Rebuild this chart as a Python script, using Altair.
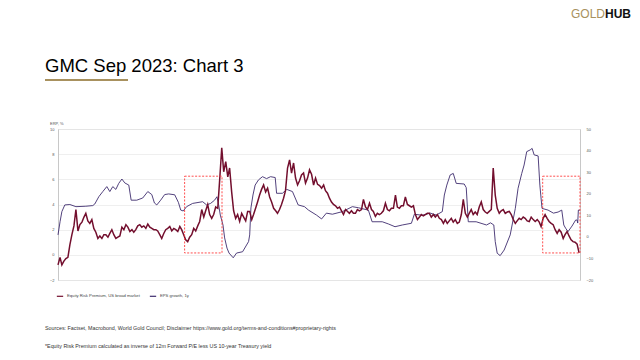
import altair as alt
import pandas as pd

# ---------------- data ----------------
erp_start = "2002-01-01"
erp_values = [
    -0.8, -0.2, -0.8, -0.5, -0.3, -0.2, 0.8, 1.6, 2.3, 3.6, 1.9, 2.4,      # 2002
    2.6, 3.0, 3.3, 2.7, 2.5, 2.8, 2.1, 1.8, 1.3, 1.5, 1.3, 1.6,            # 2003
    1.6, 1.4, 1.7, 2.0, 1.6, 1.3, 1.4, 1.5, 2.2, 2.0, 2.4, 2.2,            # 2004
    1.85, 2.0, 1.8, 2.0, 2.3, 2.4, 2.2, 2.3, 2.1, 2.45, 2.2, 2.1,          # 2005
    2.0, 2.0, 1.9, 1.6, 1.3, 1.7, 2.0, 2.1, 2.25, 1.9, 2.1, 2.0,           # 2006
    1.85, 2.25, 2.0, 1.6, 1.2, 1.05, 1.4, 1.6, 2.1, 1.9, 2.3, 2.65,        # 2007
    3.6, 3.0, 3.5, 4.0, 3.2, 2.9, 3.2, 3.8, 3.7, 6.0, 8.5, 6.6,            # 2008
    7.4, 6.2, 6.9, 5.0, 3.5, 2.9, 3.2, 2.65, 3.3, 3.0, 2.7, 3.45,          # 2009
    3.45, 2.8, 3.2, 3.7, 4.2, 4.75, 5.2, 5.55, 5.0, 5.3, 4.6, 4.2,         # 2010
    3.7, 3.5, 3.3, 3.6, 4.0, 4.5, 5.1, 6.9, 7.55, 6.5, 7.3, 6.1,           # 2011
    5.55, 5.9, 6.35, 6.5, 5.7, 6.1, 6.75, 6.4, 5.55, 6.1, 5.6, 5.5,        # 2012
    5.3, 5.55, 5.1, 4.9, 4.5, 4.2, 4.0, 3.9, 3.7, 3.8, 3.5, 3.2,           # 2013
    3.6, 3.45, 3.3, 3.5, 3.3, 3.3, 3.6, 3.5, 3.6, 4.4, 3.8, 3.6,           # 2014
    4.1, 3.6, 3.45, 3.05, 3.3, 3.2, 3.3, 3.5, 4.1, 3.6, 3.5, 3.7,          # 2015
    3.7, 4.75, 3.8, 3.7, 3.9, 3.9, 4.6, 4.0, 3.9, 3.8, 3.9, 3.2,           # 2016
    2.8, 3.0, 3.2, 3.1, 3.2, 3.3, 3.3, 3.0, 3.2, 3.0, 3.2, 2.9,            # 2017
    2.8, 2.5, 2.8, 2.5, 2.7, 2.9, 2.6, 2.8, 2.5, 2.6, 3.2, 4.4,            # 2018
    3.3, 3.0, 3.3, 3.6, 3.2, 3.4, 3.2, 3.8, 4.2, 3.6, 3.4, 3.3,            # 2019
    3.45, 3.6, 6.9, 4.75, 3.7, 3.3, 3.5, 3.6, 3.3, 3.4, 3.45, 3.2,         # 2020
    2.8, 2.5, 2.7, 2.9, 2.8, 3.0, 2.9, 2.7, 2.65, 3.0, 2.8, 2.65,          # 2021
    2.8, 2.6, 2.25, 2.9, 3.2, 2.9, 2.65, 2.5, 2.4, 2.0, 1.7, 2.0,          # 2022
    1.8, 1.3, 1.6, 1.85, 1.5, 1.2, 1.05, 1.0, 0.85, 0.15,                  # 2023
]

eps_dates = [
    "2002-01-01", "2002-02-01", "2002-03-01", "2002-04-15", "2002-07-01", "2002-10-01",
    "2003-03-01", "2003-06-15", "2003-07-15", "2003-09-15", "2003-11-15",
    "2004-01-15", "2004-03-01", "2004-04-15", "2004-06-01", "2004-07-15", "2004-09-01",
    "2004-10-15", "2004-12-15", "2005-01-20", "2005-04-15", "2005-07-15", "2005-10-01",
    "2005-12-01", "2006-01-10", "2006-02-15", "2006-04-15", "2006-06-15", "2006-08-15",
    "2006-11-15", "2007-01-10", "2007-02-15", "2007-03-25", "2007-05-15", "2007-08-15",
    "2008-01-15", "2008-03-15", "2008-05-15", "2008-07-15", "2008-08-20", "2008-09-15",
    "2008-10-10", "2008-11-20", "2008-12-15", "2009-01-20", "2009-02-20", "2009-04-25",
    "2009-06-15", "2009-09-15", "2009-12-15", "2010-01-01", "2010-01-20", "2010-02-20",
    "2010-03-25", "2010-05-15", "2010-07-15", "2010-09-15", "2010-11-15", "2011-01-25",
    "2011-02-15", "2011-05-15", "2011-07-20", "2011-10-15", "2012-01-10", "2012-04-15",
    "2012-06-15", "2012-10-15", "2013-01-01", "2013-03-15", "2013-06-15", "2013-11-15",
    "2014-04-15", "2014-07-15", "2014-12-15", "2015-02-10", "2015-07-15", "2015-10-15",
    "2016-01-25", "2016-05-15", "2016-10-01", "2016-11-15", "2017-03-15", "2017-07-15",
    "2017-10-15", "2018-01-15", "2018-02-15", "2018-03-25", "2018-05-15", "2018-07-01",
    "2018-08-15", "2018-12-15", "2019-01-15", "2019-02-15", "2019-06-15", "2019-11-20",
    "2020-01-20", "2020-03-10", "2020-04-01", "2020-05-01", "2020-06-15", "2020-08-15",
    "2020-11-15", "2021-02-01", "2021-03-15", "2021-05-10", "2021-06-15", "2021-07-25",
    "2021-09-15", "2021-10-15", "2021-11-15", "2022-01-15", "2022-02-10", "2022-03-15",
    "2022-06-15", "2022-09-05", "2022-11-15", "2023-01-10", "2023-02-10", "2023-03-10",
    "2023-04-15", "2023-06-15", "2023-08-10", "2023-09-01", "2023-09-10", "2023-09-20",
    "2023-10-15",
]
eps_values = [
    0.9, 7, 11.7, 14.8, 15, 14, 14.2, 14.5, 15.2, 18.6, 21,
    23.3, 21, 23.3, 22, 24.8, 26.8, 25, 24, 17, 17, 18, 21,
    19.6, 15.7, 14.8, 17, 19.6, 19.9, 19.5, 16, 12.4, 12, 14, 15.5,
    16.3, 14.8, 15.5, 17, 18.6, 14.8, 10.1, 5.5, -0.5, -5.2, -7.5, -9.7,
    -7.5, -6.9, -2.2, 0.9, 13.4, 19.4, 24, 26.4, 27.9, 27, 27.9, 27.5,
    20.2, 20.2, 22, 21, 14.8, 14, 12.4, 10.1, 8.3, 11, 10.5, 11.7,
    14, 13.5, 12.4, 7, 7, 6, 4.7, 5.5, 6.3, 10.5, 10, 11,
    10.1, 11.7, 19.4, 24, 28.7, 29.4, 24.8, 24.5, 22.8, 7, 7, 5.5,
    6.5, 5.5, -2.2, -7.6, -8.7, -6.1, 0.9, 13.2, 22.5, 29.4, 33.3, 39.5,
    40.3, 41, 38, 37.5, 24, 13.2, 12.4, 11, 11.5, 12.4, 5.5, 4,
    2.4, 5, 7.8, 7.8, 6.4, 12.4, 12.4,
]

box_start = ["2007-04-15", "2022-03-25"]
box_end = ["2008-11-05", "2023-10-15"]
box_low = [0.15, 0.15]
box_high = [6.25, 6.25]

year_ticks = list(range(2002, 2024))
left_ticks = [-2, 0, 2, 4, 6, 8, 10]
right_ticks = [-20, -10, 0, 10, 20, 30, 40, 50]

SER_ERP = "Equity Risk Premium, US broad market"
SER_EPS = "EPS growth, 1y"
TITLE = "GMC Sep 2023: Chart 3"
SOURCE = "Sources: Factset, Macrobond, World Gold Council; Disclaimer https://www.gold.org/terms-and-conditions#proprietary-rights"
NOTE = "*Equity Risk Premium calculated as inverse of 12m Forward P/E less US 10-year Treasury yield"

# ---------------- frames ----------------
erp_df = pd.DataFrame({
    "date": pd.date_range(erp_start, periods=len(erp_values), freq="MS"),
    "value": erp_values,
    "series": SER_ERP,
})
eps_df = pd.DataFrame({
    "date": pd.to_datetime(eps_dates),
    "value": eps_values,
    "series": SER_EPS,
})
box_df = pd.DataFrame({
    "start": pd.to_datetime(box_start),
    "end": pd.to_datetime(box_end),
    "low": box_low,
    "high": box_high,
})
one = pd.DataFrame({"k": [0]})

MAROON = "#730f2e"
PURPLE = "#3e2c6e"
GOLD = "#a8915e"
FONT = "Liberation Sans"

x_scale = alt.Scale(domain=[alt.DateTime(year=2002, month=1, date=1),
                            alt.DateTime(year=2023, month=10, date=15)])
x_axis = alt.Axis(values=[alt.DateTime(year=y, month=1, date=1) for y in year_ticks],
                  format="%Y", labelFontSize=4, labelColor="#555", grid=False,
                  domainColor="#c8c8c8", tickColor="#c8c8c8", tickSize=2,
                  labelPadding=2, title=None, labelFont=FONT)

color = alt.Color("series:N",
                  scale=alt.Scale(domain=[SER_ERP, SER_EPS], range=[MAROON, PURPLE]),
                  legend=alt.Legend(orient="none", legendX=-2, legendY=163,
                                    direction="horizontal", title=None,
                                    symbolType="stroke", symbolSize=40,
                                    symbolStrokeWidth=1.2, labelFontSize=4.2,
                                    labelColor="#444", labelFont=FONT,
                                    columnPadding=7, labelOffset=3, padding=0))

eps_line = alt.Chart(eps_df).mark_line(strokeWidth=0.9).encode(
    x=alt.X("date:T", scale=x_scale, axis=x_axis),
    y=alt.Y("value:Q", scale=alt.Scale(domain=[-20, 50], nice=False, zero=False),
            axis=alt.Axis(orient="right", values=right_ticks, grid=False,
                          domainColor="#c8c8c8", ticks=False, labelFontSize=4,
                          labelColor="#555", labelPadding=6, title=None,
                          labelFont=FONT)),
    color=color,
)

erp_line = alt.Chart(erp_df).mark_line(strokeWidth=1.5).encode(
    x=alt.X("date:T", scale=x_scale, axis=x_axis),
    y=alt.Y("value:Q", scale=alt.Scale(domain=[-2, 10], nice=False, zero=False),
            axis=alt.Axis(orient="left", values=left_ticks, grid=True,
                          gridColor="#e8e8e8", gridWidth=0.7,
                          domainColor="#c8c8c8", ticks=False, labelFontSize=4,
                          labelColor="#555", labelPadding=4, title=None,
                          labelFont=FONT)),
    color=color,
)

boxes = alt.Chart(box_df).mark_rect(fillOpacity=0, stroke="#ff3b3b",
                                    strokeWidth=0.9, strokeDash=[2, 1.5]).encode(
    x=alt.X("start:T", scale=x_scale, axis=None),
    x2="end:T",
    y=alt.Y("low:Q", scale=alt.Scale(domain=[-2, 10], nice=False, zero=False), axis=None),
    y2="high:Q",
)


def label(text, x, y, size, color="#222", align="left", weight="normal", font=FONT):
    return alt.Chart(one).mark_text(text=text, align=align, baseline="middle",
                                    fontSize=size, color=color, fontWeight=weight,
                                    font=font).encode(x=alt.value(x), y=alt.value(y))


title = label(TITLE, -13, -63, 18.5, color="#000")
underline = alt.Chart(one).mark_rule(color=GOLD, strokeWidth=2).encode(
    x=alt.value(-13), x2=alt.value(70), y=alt.value(-49))
gold = label("GOLD", 547, -115, 12, color=GOLD, align="right", weight=500)
hub = label("HUB", 547, -115, 12, color="#111", weight="bold")
erp_title = label("ERP, %", -8, -5, 4, color="#555")
source = label(SOURCE, -13, 199, 5.35, color="#333")
note = label(NOTE, -13, 217, 5.35, color="#333")

chart = alt.layer(
    eps_line, erp_line, boxes, title, underline, gold, hub, erp_title, source, note
).resolve_scale(y="independent").properties(
    width=522, height=151,
    padding={"left": 50, "top": 121, "right": 52, "bottom": 70},
    autosize=alt.AutoSizeParams(type="none"),
).configure_view(stroke=None).configure(background="white")

chart.save("out.html", embed_options={"renderer": "svg", "actions": False})
